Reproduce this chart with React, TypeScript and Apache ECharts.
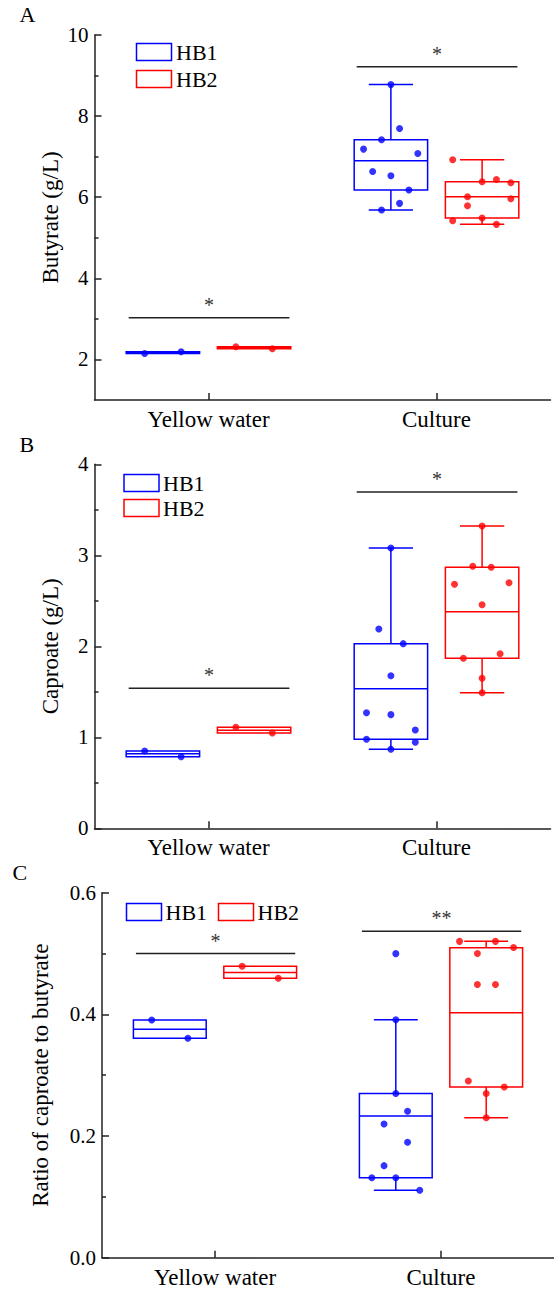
import React, { useEffect, useRef } from 'react';
import * as echarts from 'echarts';

// ---------- data ----------
const categories = ['Yellow water', 'Culture'];
const groupNames = ['HB1', 'HB2'];

// box statistics per category: [min, Q1, median, Q3, max]
// Panel A — Butyrate (g/L)
const butyrateBoxHB1 = [[2.148, 2.148, 2.17, 2.19, 2.19], [5.684, 6.177, 6.898, 7.415, 8.777]];
const butyrateBoxHB2 = [[2.262, 2.262, 2.29, 2.311, 2.311], [5.331, 5.488, 6.012, 6.382, 6.923]];
const butyratePointsHB1 = [[2.148, 2.19], [8.777, 7.694, 7.415, 7.186, 7.079, 6.636, 6.529, 6.177, 5.849, 5.684]];
const butyrateJitterHB1 = [[-0.08, 0.08], [0, 0.038, -0.041, -0.12, 0.118, -0.08, 0, 0.079, 0.038, -0.041]];
const butyratePointsHB2 = [[2.311, 2.262], [6.923, 6.382, 6.438, 6.357, 6.012, 5.963, 5.791, 5.422, 5.488, 5.331]];
const butyrateJitterHB2 = [[-0.08, 0.08], [-0.129, 0, 0.063, 0.126, -0.064, 0.126, -0.064, -0.129, 0, 0.063]];
const butyrateSignifY = [3.03, 9.22];
const butyrateSignifLabel = ['*', '*'];
const butyrateTicks = [2, 4, 6, 8, 10];
const butyrateMinorTicks = [3, 5, 7, 9];

// Panel B — Caproate (g/L)
const caproateBoxHB1 = [[0.787, 0.787, 0.82, 0.849, 0.849], [0.868, 0.978, 1.534, 2.029, 3.08]];
const caproateBoxHB2 = [[1.047, 1.047, 1.077, 1.11, 1.11], [1.49, 1.868, 2.38, 2.868, 3.322]];
const caproatePointsHB1 = [[0.849, 0.787], [3.08, 2.19, 2.029, 1.677, 1.27, 1.249, 1.08, 0.978, 0.945, 0.868]];
const caproateJitterHB1 = [[-0.08, 0.08], [0, -0.053, 0.054, 0, -0.107, 0, 0.107, -0.107, 0.107, 0]];
const caproatePointsHB2 = [[1.11, 1.047], [3.322, 2.879, 2.868, 2.681, 2.699, 2.457, 1.919, 1.868, 1.648, 1.49]];
const caproateJitterHB2 = [[-0.08, 0.08], [0, -0.041, 0.04, -0.121, 0.118, 0, 0.079, -0.082, 0, 0]];
const caproateSignifY = [1.538, 3.696];
const caproateSignifLabel = ['*', '*'];

// Panel C — Ratio of caproate to butyrate
const ratioBoxHB1 = [[0.3606, 0.3606, 0.3754, 0.3908, 0.3908], [0.1108, 0.1315, 0.233, 0.27, 0.391]];
const ratioBoxHB2 = [[0.4593, 0.4593, 0.469, 0.479, 0.479], [0.2302, 0.2806, 0.4028, 0.5097, 0.52]];
const ratioPointsHB1 = [[0.3908, 0.3606], [0.4998, 0.391, 0.27, 0.2407, 0.2198, 0.1897, 0.1513, 0.1315, 0.1315, 0.1108]];
const ratioJitterHB1 = [[-0.08, 0.08], [0, 0, 0, 0.052, -0.052, 0.052, -0.052, -0.106, 0, 0.106]];
const ratioPointsHB2 = [[0.479, 0.4593], [0.52, 0.52, 0.51, 0.5, 0.449, 0.449, 0.2905, 0.2806, 0.27, 0.2302]];
const ratioJitterHB2 = [[-0.08, 0.08], [-0.118, 0.041, 0.121, -0.039, -0.039, 0.041, -0.079, 0.08, 0, 0]];
const ratioSignifY = [0.5, 0.5366];
const ratioSignifLabel = ['*', '**'];

// ---------- styling ----------
const FONT = "'Liberation Serif', serif";
const BLUE = '#0000ff';
const RED = '#ff0000';
const AXIS = '#222222';
const GROUP_OFFSET = 0.2;
const BOX_HALF = 0.161;
const CAP_HALF = 0.097;
const SIG_LEFT = 0.35;
const SIG_RIGHT = 0.355;
const LW = 1.5;

function yIdx(p: number) {
  return p === 0 ? 0 : p + 1;
}

function boxSeries(p: number, name: string, color: string, box: number[][], offset: number) {
  return {
    type: 'custom',
    name,
    xAxisIndex: p * 2 + 1,
    yAxisIndex: yIdx(p),
    data: box.map((b, i) => [i + offset, ...b]),
    encode: { x: 0, y: [1, 2, 3, 4, 5] },
    z: 3,
    renderItem: (_params: any, api: any) => {
      const x = api.value(0);
      const mn = api.value(1), q1 = api.value(2), md = api.value(3), q3 = api.value(4), mx = api.value(5);
      const tl = api.coord([x - BOX_HALF, q3]);
      const br = api.coord([x + BOX_HALF, q1]);
      const mL = api.coord([x - BOX_HALF, md]);
      const mR = api.coord([x + BOX_HALF, md]);
      const st = { stroke: color, lineWidth: LW, fill: 'none' };
      const children: any[] = [
        { type: 'rect', shape: { x: tl[0], y: tl[1], width: br[0] - tl[0], height: br[1] - tl[1] }, style: st },
        { type: 'line', shape: { x1: mL[0], y1: mL[1], x2: mR[0], y2: mR[1] }, style: st },
      ];
      if (mx > q3) {
        const a = api.coord([x, q3]), b = api.coord([x, mx]);
        const cl = api.coord([x - CAP_HALF, mx]), cr = api.coord([x + CAP_HALF, mx]);
        children.push({ type: 'line', shape: { x1: a[0], y1: a[1], x2: b[0], y2: b[1] }, style: st });
        children.push({ type: 'line', shape: { x1: cl[0], y1: cl[1], x2: cr[0], y2: cr[1] }, style: st });
      }
      if (mn < q1) {
        const a = api.coord([x, q1]), b = api.coord([x, mn]);
        const cl = api.coord([x - CAP_HALF, mn]), cr = api.coord([x + CAP_HALF, mn]);
        children.push({ type: 'line', shape: { x1: a[0], y1: a[1], x2: b[0], y2: b[1] }, style: st });
        children.push({ type: 'line', shape: { x1: cl[0], y1: cl[1], x2: cr[0], y2: cr[1] }, style: st });
      }
      return { type: 'group', children };
    },
  };
}

function pointSeries(p: number, name: string, color: string, pts: number[][], jit: number[][], offset: number) {
  const data: number[][] = [];
  pts.forEach((vals, ci) => vals.forEach((v, j) => data.push([ci + offset + jit[ci][j], v])));
  return {
    type: 'scatter',
    name,
    xAxisIndex: p * 2 + 1,
    yAxisIndex: yIdx(p),
    data,
    symbol: 'circle',
    symbolSize: 7,
    itemStyle: { color },
    z: 5,
  };
}

function signifSeries(p: number, ys: number[], labels: string[]) {
  return {
    type: 'custom',
    xAxisIndex: p * 2 + 1,
    yAxisIndex: yIdx(p),
    data: ys.map((y, i) => [i, y]),
    encode: { x: 0, y: 1 },
    z: 4,
    renderItem: (params: any, api: any) => {
      const x = api.value(0);
      const y = api.value(1);
      const a = api.coord([x - SIG_LEFT, y]);
      const b = api.coord([x + SIG_RIGHT, y]);
      return {
        type: 'group',
        children: [
          { type: 'line', shape: { x1: a[0], y1: a[1], x2: b[0], y2: b[1] }, style: { stroke: AXIS, lineWidth: LW } },
          {
            type: 'text',
            x: (a[0] + b[0]) / 2,
            y: a[1] - 3,
            style: { text: labels[params.dataIndex], fill: '#333', fontSize: 20, fontFamily: FONT, align: 'center', verticalAlign: 'bottom' },
          },
        ],
      };
    },
  };
}

const catAxis = (p: number) => ({
  type: 'category',
  gridIndex: p,
  data: categories,
  position: 'bottom',
  axisLine: { show: true, onZero: false, lineStyle: { color: AXIS, width: LW } },
  axisTick: { show: true, alignWithLabel: true, inside: true, length: 7, lineStyle: { color: AXIS, width: LW } },
  axisLabel: { color: '#000', fontSize: 23, fontFamily: FONT, margin: 8 },
  splitLine: { show: false },
});

const valXAxis = (p: number) => ({
  type: 'value',
  gridIndex: p,
  position: 'bottom',
  min: -0.5,
  max: 1.5,
  show: false,
  axisLine: { onZero: false },
  splitLine: { show: false },
});

const nameStyle = { color: '#000', fontSize: 23, fontFamily: FONT };
const labelStyle = { color: '#000', fontSize: 21, fontFamily: FONT, margin: 6 };
const yLine = { show: true, onZero: false, lineStyle: { color: AXIS, width: LW } };

function legendGraphics(items: { rx: number; ry: number; tx: number; ty: number; name: string; color: string }[]) {
  const out: any[] = [];
  items.forEach((it) => {
    out.push({ type: 'rect', x: it.rx, y: it.ry, shape: { x: 0, y: 0, width: 35, height: 17 }, style: { fill: '#fff', stroke: it.color, lineWidth: LW }, z: 10 });
    out.push({ type: 'text', x: it.tx, y: it.ty, style: { text: it.name, fill: '#000', fontSize: 22, fontFamily: FONT, verticalAlign: 'middle', align: 'left' }, z: 10 });
  });
  return out;
}

export default function App() {
  const ref = useRef<HTMLDivElement>(null);
  useEffect(() => {
    if (!ref.current) return;
    const chart = echarts.init(ref.current, undefined, { renderer: 'svg' });
    const option: any = {
      animation: false,
      backgroundColor: '#fff',
      textStyle: { fontFamily: FONT },
      grid: [
        { left: 94.5, top: 35, width: 456, height: 365 },
        { left: 94.5, top: 464.3, width: 456, height: 364 },
        { left: 102, top: 892.7, width: 455, height: 365 },
      ],
      xAxis: [catAxis(0), valXAxis(0), catAxis(1), valXAxis(1), catAxis(2), valXAxis(2)],
      yAxis: [
        {
          type: 'value', gridIndex: 0, position: 'left', min: 1, max: 10, interval: 1,
          name: 'Butyrate (g/L)', nameLocation: 'middle', nameGap: 33, nameMoveOverlap: false, nameTextStyle: nameStyle,
          axisLine: yLine,
          axisTick: { show: true, inside: true, length: 7, customValues: butyrateTicks, lineStyle: { color: AXIS, width: LW } },
          axisLabel: { ...labelStyle, customValues: butyrateTicks, formatter: (v: number) => (v % 2 === 0 ? String(v) : '') },
          splitLine: { show: false },
        },
        {
          type: 'value', gridIndex: 0, position: 'left', offset: 0, min: 1, max: 10, interval: 1,
          axisLine: { show: false, onZero: false },
          axisTick: { show: true, inside: true, length: 4, customValues: butyrateMinorTicks, lineStyle: { color: AXIS, width: LW } },
          axisLabel: { show: false },
          splitLine: { show: false },
        },
        {
          type: 'value', gridIndex: 1, position: 'left', min: 0, max: 4, interval: 1,
          name: 'Caproate (g/L)', nameLocation: 'middle', nameGap: 33, nameMoveOverlap: false, nameTextStyle: nameStyle,
          axisLine: yLine,
          axisTick: { show: true, inside: true, length: 7, lineStyle: { color: AXIS, width: LW } },
          minorTick: { show: true, splitNumber: 2, length: 4, lineStyle: { color: AXIS, width: LW } },
          axisLabel: labelStyle,
          splitLine: { show: false },
          minorSplitLine: { show: false },
        },
        {
          type: 'value', gridIndex: 2, position: 'left', min: 0, max: 0.6, interval: 0.2,
          name: 'Ratio of caproate to butyrate', nameLocation: 'middle', nameGap: 50, nameMoveOverlap: false, nameTextStyle: nameStyle,
          axisLine: yLine,
          axisTick: { show: true, inside: true, length: 7, lineStyle: { color: AXIS, width: LW } },
          minorTick: { show: true, splitNumber: 2, length: 4, lineStyle: { color: AXIS, width: LW } },
          axisLabel: { ...labelStyle, formatter: (v: number) => v.toFixed(1) },
          splitLine: { show: false },
          minorSplitLine: { show: false },
        },
      ],
      series: [
        boxSeries(0, groupNames[0], BLUE, butyrateBoxHB1, -GROUP_OFFSET),
        boxSeries(0, groupNames[1], RED, butyrateBoxHB2, GROUP_OFFSET),
        pointSeries(0, groupNames[0], BLUE, butyratePointsHB1, butyrateJitterHB1, -GROUP_OFFSET),
        pointSeries(0, groupNames[1], RED, butyratePointsHB2, butyrateJitterHB2, GROUP_OFFSET),
        signifSeries(0, butyrateSignifY, butyrateSignifLabel),

        boxSeries(1, groupNames[0], BLUE, caproateBoxHB1, -GROUP_OFFSET),
        boxSeries(1, groupNames[1], RED, caproateBoxHB2, GROUP_OFFSET),
        pointSeries(1, groupNames[0], BLUE, caproatePointsHB1, caproateJitterHB1, -GROUP_OFFSET),
        pointSeries(1, groupNames[1], RED, caproatePointsHB2, caproateJitterHB2, GROUP_OFFSET),
        signifSeries(1, caproateSignifY, caproateSignifLabel),

        boxSeries(2, groupNames[0], BLUE, ratioBoxHB1, -GROUP_OFFSET),
        boxSeries(2, groupNames[1], RED, ratioBoxHB2, GROUP_OFFSET),
        pointSeries(2, groupNames[0], BLUE, ratioPointsHB1, ratioJitterHB1, -GROUP_OFFSET),
        pointSeries(2, groupNames[1], RED, ratioPointsHB2, ratioJitterHB2, GROUP_OFFSET),
        signifSeries(2, ratioSignifY, ratioSignifLabel),
      ],
      graphic: [
        { type: 'text', x: 19.5, y: 3, style: { text: 'A', fill: '#000', fontSize: 22, fontFamily: FONT, verticalAlign: 'top' } },
        { type: 'text', x: 19.5, y: 433, style: { text: 'B', fill: '#000', fontSize: 22, fontFamily: FONT, verticalAlign: 'top' } },
        { type: 'text', x: 12.5, y: 861.5, style: { text: 'C', fill: '#000', fontSize: 22, fontFamily: FONT, verticalAlign: 'top' } },
        ...legendGraphics([
          { rx: 136.5, ry: 43.5, tx: 176, ty: 52.5, name: groupNames[0], color: BLUE },
          { rx: 136.5, ry: 70.5, tx: 176, ty: 79.5, name: groupNames[1], color: RED },
          { rx: 124, ry: 474.5, tx: 163, ty: 483.5, name: groupNames[0], color: BLUE },
          { rx: 124, ry: 499.5, tx: 163, ty: 508.5, name: groupNames[1], color: RED },
          { rx: 126.5, ry: 903.5, tx: 165.5, ty: 912.5, name: groupNames[0], color: BLUE },
          { rx: 218.5, ry: 903.5, tx: 257.5, ty: 912.5, name: groupNames[1], color: RED },
        ]),
      ],
    };
    chart.setOption(option);
    return () => chart.dispose();
  }, []);
  return <div ref={ref} style={{ position: 'fixed', left: 0, top: 0, width: 554, height: 1289, background: '#fff' }} />;
}
